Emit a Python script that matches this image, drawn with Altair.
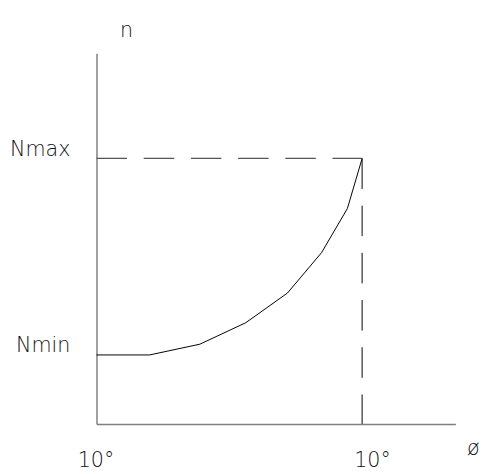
import altair as alt
import pandas as pd

# curve (x: phi position 0..100, y: n position 0..100)
phi = [0, 14.8, 28.8, 41.6, 53.2, 62.7, 69.9, 74.0]
n = [18.6, 18.6, 21.5, 27.3, 35.3, 46.2, 58.1, 71.6]

phi_max = 74.0
n_min = 18.6
n_max = 71.6

y_labels = ["Nmin", "Nmax"]
x_labels = ["10°", "10°"]

FONT = "DejaVu Sans, sans-serif"
FS = 21
FW = 200
TXT = "#111"

curve = pd.DataFrame({"phi": phi, "n": n})
hline = pd.DataFrame({"x": [0], "x2": [phi_max], "y": [n_max]})
vline = pd.DataFrame({"x": [phi_max], "y": [n_max], "y2": [0]})

xscale = alt.Scale(domain=[0, 100], nice=False, zero=True)
yscale = alt.Scale(domain=[0, 100], nice=False, zero=True)

xaxis = alt.Axis(
    values=[0, phi_max],
    labelExpr="'%s'" % x_labels[0],
    ticks=False,
    tickSize=0,
    grid=False,
    domainColor="#808080",
    domainWidth=1.5,
    labelPadding=43,
    labelBaseline="alphabetic",
    labelAlign="center",
    labelOffset={"condition": {"test": "datum.value > 50", "value": 10}, "value": -1},
    labelFont=FONT,
    labelFontSize=FS,
    labelFontWeight=FW,
    labelColor=TXT,
    title="ø",
    titleFont=FONT,
    titleFontSize=FS,
    titleFontWeight=FW,
    titleColor=TXT,
    titleX=389,
    titleY=31,
    titleAlign="right",
    titleBaseline="alphabetic",
)

yaxis = alt.Axis(
    values=[n_min, n_max],
    labelExpr="datum.value > 50 ? '%s' : '%s'" % (y_labels[1], y_labels[0]),
    ticks=False,
    tickSize=0,
    grid=False,
    domainColor="#808080",
    domainWidth=1.5,
    labelPadding=27,
    labelBaseline="alphabetic",
    labelOffset=-3,
    labelFont=FONT,
    labelFontSize=FS,
    labelFontWeight=FW,
    labelColor=TXT,
    title="n",
    titleAngle=0,
    titleFont=FONT,
    titleFontSize=FS,
    titleFontWeight=FW,
    titleColor=TXT,
    titleX=30,
    titleY=-17,
    titleAlign="center",
    titleBaseline="alphabetic",
)

line = alt.Chart(curve).mark_line(color="black", strokeWidth=1).encode(
    x=alt.X("phi:Q", scale=xscale, axis=xaxis),
    y=alt.Y("n:Q", scale=yscale, axis=yaxis),
)

h = alt.Chart(hline).mark_rule(color="#555", strokeWidth=1.2, strokeDash=[31, 17]).encode(
    x=alt.X("x:Q", scale=xscale), x2="x2:Q", y=alt.Y("y:Q", scale=yscale)
)

v = alt.Chart(vline).mark_rule(color="black", strokeWidth=1, strokeDash=[31, 17]).encode(
    x=alt.X("x:Q", scale=xscale), y=alt.Y("y:Q", scale=yscale), y2="y2:Q"
)

chart = (
    alt.layer(line, h, v)
    .properties(
        width=365,
        height=377,
        autosize=alt.AutoSizeParams(type="none"),
        padding={"left": 90, "top": 42, "right": 26, "bottom": 47},
        background="white",
    )
    .configure_view(stroke=None)
)

chart.save("out.html", embed_options={"renderer": "svg", "actions": False})
